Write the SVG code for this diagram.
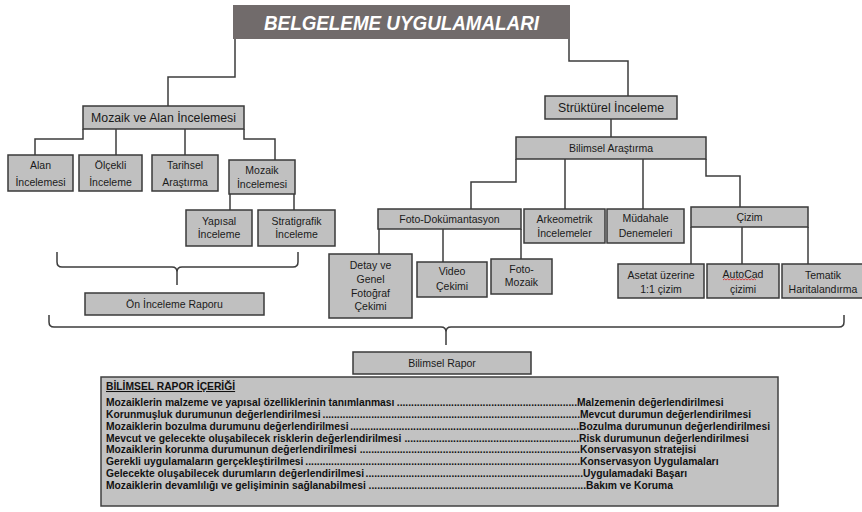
<svg xmlns="http://www.w3.org/2000/svg" width="862" height="512" viewBox="0 0 862 512">
<style>
.box{fill:#c0c0c0;stroke:#3a3a3a;stroke-width:1.5}
.ln{fill:none;stroke:#3c3c3c;stroke-width:1.5}
.t{font-family:"Liberation Sans",Arial,sans-serif;font-size:10.5px;fill:#1a1a1a;text-anchor:middle}
.tb{font-family:"Liberation Sans",Arial,sans-serif;font-size:12.3px;fill:#1a1a1a;text-anchor:middle}
.r{font-family:"Liberation Sans",Arial,sans-serif;font-size:10.3px;font-weight:bold;fill:#111}
.d{font-family:"Liberation Sans",Arial,sans-serif;font-size:10.3px;font-weight:bold;fill:#111;text-anchor:end}
</style>
<rect width="862" height="512" fill="#ffffff"/>
<g id="connectors">
<path class="ln" d="M235,39 V77 H168 V106"/>
<path class="ln" d="M569,39 V61 H628 V96"/>
<path class="ln" d="M83,129 V139 H35 V155"/>
<path class="ln" d="M116,129 V155"/>
<path class="ln" d="M185,129 V155"/>
<path class="ln" d="M244,129 V139 H275 V160"/>
<path class="ln" d="M230,194 V210"/>
<path class="ln" d="M294,194 V210"/>
<path class="ln" d="M611,119 V137"/>
<path class="ln" d="M516,159 V182 H471 V209"/>
<path class="ln" d="M565,159 V209"/>
<path class="ln" d="M643,159 V209"/>
<path class="ln" d="M706,159 V176 H740 V207"/>
<path class="ln" d="M379,229 V254"/>
<path class="ln" d="M443,229 V262"/>
<path class="ln" d="M521,229 V259"/>
<path class="ln" d="M691,227 V264"/>
<path class="ln" d="M742,227 V264"/>
<path class="ln" d="M808,227 V264"/>
<path class="ln" d="M57,252 V262 Q57,267 62,267 H172 Q177,267 177,272 V285 M177,272 Q177,267 182,267 H293 Q298,267 298,262 V252"/>
<path class="ln" d="M49,315 V322 Q49,327 54,327 H441 Q446,327 446,332 V345 M446,332 Q446,327 451,327 H839 Q844,327 844,322 V315"/>
</g>
<g id="title">
<rect x="233" y="5" width="337" height="34" fill="#716b6b"/>
<text x="401.5" y="30" font-family="Liberation Sans,Arial,sans-serif" font-size="20" font-weight="bold" font-style="italic" fill="#ffffff" text-anchor="middle" textLength="275" lengthAdjust="spacingAndGlyphs">BELGELEME UYGULAMALARI</text>
</g>
<g id="mozaik-alan">
<rect class="box" x="83" y="106" width="161" height="23"/>
<text class="tb" x="163.5" y="122">Mozaik ve Alan İncelemesi</text>
</g>
<g id="alan">
<rect class="box" x="8" y="155" width="65" height="36"/>
<text class="t" x="40.5" y="169">Alan</text>
<text class="t" x="40.5" y="186">İncelemesi</text>
</g>
<g id="olcekli">
<rect class="box" x="79" y="155" width="63" height="36"/>
<text class="t" x="110.5" y="169">Ölçekli</text>
<text class="t" x="110.5" y="186">İnceleme</text>
</g>
<g id="tarihsel">
<rect class="box" x="152" y="155" width="66" height="36"/>
<text class="t" x="185" y="169">Tarihsel</text>
<text class="t" x="185" y="186">Araştırma</text>
</g>
<g id="mozaik-inc">
<rect class="box" x="229" y="160" width="66" height="34"/>
<text class="t" x="262" y="174">Mozaik</text>
<text class="t" x="262" y="188">İncelemesi</text>
</g>
<g id="yapisal">
<rect class="box" x="186" y="210" width="66" height="36"/>
<text class="t" x="219" y="224.5">Yapısal</text>
<text class="t" x="219" y="238">İnceleme</text>
</g>
<g id="stratigrafik">
<rect class="box" x="258" y="210" width="77" height="36"/>
<text class="t" x="296.5" y="224.5">Stratigrafik</text>
<text class="t" x="296.5" y="238">İnceleme</text>
</g>
<g id="on-inceleme">
<rect class="box" x="85" y="293" width="179" height="22"/>
<text class="t" x="174.5" y="308">Ön İnceleme Raporu</text>
</g>
<g id="strukturel">
<rect class="box" x="545" y="96" width="132" height="23"/>
<text class="tb" x="611" y="112">Strüktürel İnceleme</text>
</g>
<g id="bilimsel-arastirma">
<rect class="box" x="516" y="137" width="190" height="22"/>
<text class="t" x="611" y="152">Bilimsel Araştırma</text>
</g>
<g id="foto-dok">
<rect class="box" x="378" y="209" width="143" height="20"/>
<text class="t" x="449.5" y="223">Foto-Dokümantasyon</text>
</g>
<g id="arkeometrik">
<rect class="box" x="524" y="209" width="81" height="34"/>
<text class="t" x="564.5" y="223">Arkeometrik</text>
<text class="t" x="564.5" y="237">İncelemeler</text>
</g>
<g id="mudahale">
<rect class="box" x="607" y="209" width="77" height="34"/>
<text class="t" x="645.5" y="222">Müdahale</text>
<text class="t" x="645.5" y="237">Denemeleri</text>
</g>
<g id="cizim">
<rect class="box" x="691" y="207" width="117" height="20"/>
<text class="t" x="749.5" y="221">Çizim</text>
</g>
<g id="detay">
<rect class="box" x="329" y="254" width="83" height="64"/>
<text class="t" x="370.5" y="269">Detay ve</text>
<text class="t" x="370.5" y="283">Genel</text>
<text class="t" x="370.5" y="297">Fotoğraf</text>
<text class="t" x="370.5" y="310">Çekimi</text>
</g>
<g id="video">
<rect class="box" x="417" y="262" width="70" height="35"/>
<text class="t" x="452" y="275">Video</text>
<text class="t" x="452" y="290">Çekimi</text>
</g>
<g id="foto-mozaik">
<rect class="box" x="491" y="259" width="61" height="35"/>
<text class="t" x="521.5" y="273">Foto-</text>
<text class="t" x="521.5" y="286">Mozaik</text>
</g>
<g id="asetat">
<rect class="box" x="618" y="264" width="86" height="34"/>
<text class="t" x="661" y="278.5">Asetat üzerine</text>
<text class="t" x="661" y="292.5">1:1 çizim</text>
</g>
<g id="autocad">
<rect class="box" x="707" y="264" width="72" height="34"/>
<text class="t" x="743" y="277.5">AutoCad</text>
<path d="M723,280 l1.5,-1.2 l1.5,1.2 l1.5,-1.2 l1.5,1.2 l1.5,-1.2 l1.5,1.2 l1.5,-1.2 l1.5,1.2 l1.5,-1.2 l1.5,1.2 l1.5,-1.2 l1.5,1.2 l1.5,-1.2 l1.5,1.2 l1.5,-1.2 l1.5,1.2 l1.5,-1.2 l1.5,1.2 l1.5,-1.2 l1.5,1.2 l1.5,-1.2 l1.5,1.2" fill="none" stroke="#e02020" stroke-width="0.8"/>
<text class="t" x="743" y="292.5">çizimi</text>
</g>
<g id="tematik">
<rect class="box" x="782" y="264" width="90" height="34"/>
<text class="t" x="823" y="278.5">Tematik</text>
<text class="t" x="823" y="292.5">Haritalandırma</text>
</g>
<g id="bilimsel-rapor">
<rect class="box" x="353" y="352" width="178" height="22"/>
<text class="t" x="442" y="367">Bilimsel Rapor</text>
</g>
<g id="rapor-icerigi">
<rect x="101" y="377" width="677" height="129" fill="#c2c2c2" stroke="#404040" stroke-width="1.5"/>
<text class="r" x="106" y="390" text-decoration="underline">BİLİMSEL RAPOR İÇERİĞİ</text>
<text class="r" x="106" y="406">Mozaiklerin malzeme ve yapısal özelliklerinin tanımlanması</text>
<text class="d" x="577" y="406">...............................................................</text>
<text class="r" x="577" y="406">Malzemenin değerlendirilmesi</text>
<text class="r" x="106" y="418">Korunmuşluk durumunun değerlendirilmesi</text>
<text class="d" x="580" y="418">..........................................................................................</text>
<text class="r" x="580" y="418">Mevcut durumun değerlendirilmesi</text>
<text class="r" x="106" y="430">Mozaiklerin bozulma durumunu değerlendirilmesi</text>
<text class="d" x="579" y="430">................................................................................</text>
<text class="r" x="579" y="430">Bozulma durumunun değerlendirilmesi</text>
<text class="r" x="106" y="442">Mevcut ve gelecekte oluşabilecek risklerin değerlendirilmesi</text>
<text class="d" x="579" y="442">.............................................................</text>
<text class="r" x="579" y="442">Risk durumunun değerlendirilmesi</text>
<text class="r" x="106" y="453">Mozaiklerin korunma durumunun değerlendirilmesi</text>
<text class="d" x="580" y="453">.............................................................................</text>
<text class="r" x="580" y="453">Konservasyon stratejisi</text>
<text class="r" x="106" y="465">Gerekli uygulamaların gerçekleştirilmesi</text>
<text class="d" x="580" y="465">................................................................................................</text>
<text class="r" x="580" y="465">Konservasyon Uygulamaları</text>
<text class="r" x="106" y="477">Gelecekte oluşabilecek durumların değerlendirilmesi</text>
<text class="d" x="583" y="477">............................................................................</text>
<text class="r" x="583" y="477">Uygulamadaki Başarı</text>
<text class="r" x="106" y="489">Mozaiklerin devamlılığı ve gelişiminin sağlanabilmesi</text>
<text class="d" x="586" y="489">............................................................................</text>
<text class="r" x="586" y="489">Bakım ve Koruma</text>
</g>
</svg>
